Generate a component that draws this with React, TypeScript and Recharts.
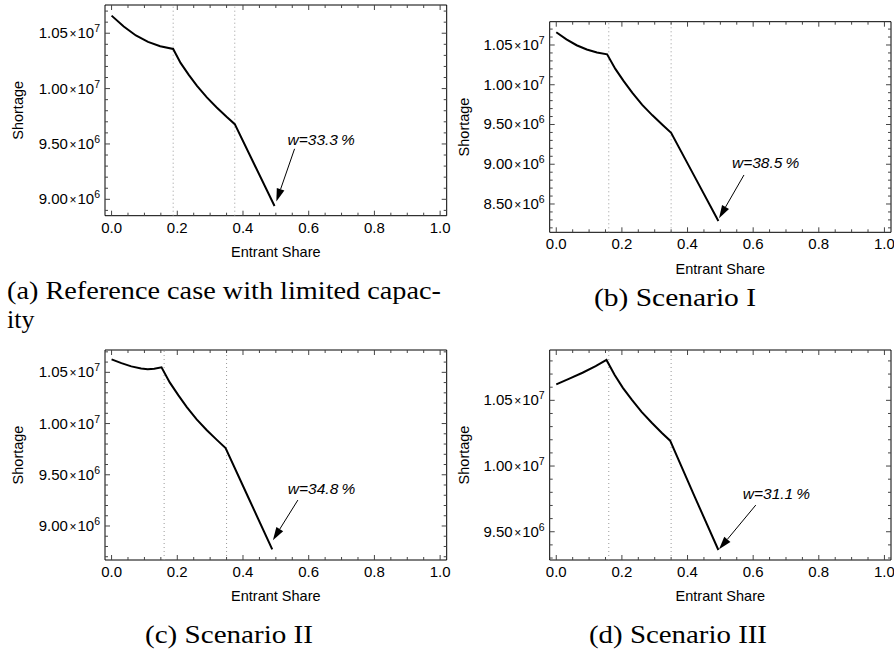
import React from "react";
import { LineChart, Line, XAxis, YAxis, ReferenceLine, ReferenceArea } from "recharts";

const SANS = "'Liberation Sans', Arial, sans-serif";
const SERIF = "'Liberation Serif', serif";
const TICK = "#444";

// (a) reference case with limited capacity
const shareA = [0, 0.037, 0.074, 0.111, 0.148, 0.1875, 0.21, 0.235, 0.26, 0.29, 0.32, 0.35, 0.375, 0.435, 0.496];
const shortageA = [10659000, 10560000, 10480000, 10422000, 10382000, 10358000, 10232000, 10124000, 10024000, 9921000, 9830000, 9745000, 9679000, 9312000, 8940000];

// (b) scenario I
const shareB = [0, 0.031, 0.062, 0.093, 0.124, 0.155, 0.18, 0.206, 0.232, 0.262, 0.293, 0.325, 0.35, 0.422, 0.494];
const shortageB = [10660000, 10570000, 10497000, 10443000, 10405000, 10383000, 10199000, 10042000, 9897000, 9747000, 9615000, 9491000, 9396000, 8841000, 8286000];

// (c) scenario II
const shareC = [0, 0.03, 0.06, 0.09, 0.11, 0.13, 0.152, 0.177, 0.203, 0.229, 0.259, 0.29, 0.322, 0.347, 0.418, 0.489];
const shortageC = [10627000, 10590000, 10558000, 10537000, 10529000, 10535000, 10549000, 10402000, 10277000, 10161000, 10041000, 9935000, 9836000, 9760000, 9266000, 8772000];

// (d) scenario III
const shareD = [0, 0.04, 0.08, 0.12, 0.153, 0.178, 0.203, 0.23, 0.26, 0.291, 0.322, 0.347, 0.42, 0.494];
const shortageD = [10622000, 10665000, 10710000, 10760000, 10807000, 10693000, 10595000, 10505000, 10412000, 10329000, 10252000, 10193000, 9777000, 9361000];

// dotted regime boundaries
const kinksA = [0.1875, 0.375];
const kinksBCD = [0.16, 0.35];

// tick labels
const xMajor = [0, 0.2, 0.4, 0.6, 0.8, 1.0];
const yMajorA = [9.0e6, 9.5e6, 1.0e7, 1.05e7];
const yMajorB = [8.5e6, 9.0e6, 9.5e6, 1.0e7, 1.05e7];
const yMajorC = [9.0e6, 9.5e6, 1.0e7, 1.05e7];
const yMajorD = [9.5e6, 1.0e7, 1.05e7];

// optimum labels
const optA = "w=33.3\u2009%";
const optB = "w=38.5\u2009%";
const optC = "w=34.8\u2009%";
const optD = "w=31.1\u2009%";

const W = 460;
const H = 300;

function allTicks(lo: number, hi: number, step: number) {
  const out: number[] = [];
  for (let i = Math.ceil(lo / step - 1e-9); i * step <= hi + 1e-9; i++) out.push(+(i * step).toFixed(6));
  return out;
}

function isMajor(v: number, major: number[], step: number) {
  return major.some((m) => Math.abs(m - v) < step / 10);
}

function sci(v: number) {
  const e = Math.floor(Math.log10(v) + 1e-9);
  return { m: (v / Math.pow(10, e)).toFixed(2), e };
}

type Arrow = { from: [number, number]; to: [number, number]; text: string; dx: number; dy: number };

type PanelProps = {
  left: number;
  top: number;
  plot: { l: number; t: number; r: number; b: number };
  share: number[];
  shortage: number[];
  yDomain: [number, number];
  yMajor: number[];
  kinks: number[];
  arrow: Arrow;
  yLabelOffset: number;
};

function Panel(p: PanelProps) {
  const plotW = W - p.plot.l - p.plot.r;
  const plotH = H - p.plot.t - p.plot.b;
  const data = p.share.map((s, i) => ({ share: s, shortage: p.shortage[i] }));
  const xTicks = allTicks(0, 1, 0.05);
  const yTicks = allTicks(p.yDomain[0], p.yDomain[1], 1e5);

  const xTick = (props: any) => {
    const { x, y, payload } = props;
    const major = isMajor(payload.value, xMajor, 0.05);
    const len = major ? 5 : 3;
    return (
      <g>
        <line x1={x} y1={y} x2={x} y2={y - len} stroke={TICK} />
        <line x1={x} y1={y - plotH} x2={x} y2={y - plotH + len} stroke={TICK} />
        {major && (
          <text x={x} y={y + 17} textAnchor="middle" fontSize={15} fontFamily={SANS} fill="#000">
            {payload.value.toFixed(1)}
          </text>
        )}
      </g>
    );
  };

  const yTick = (props: any) => {
    const { x, y, payload } = props;
    const major = isMajor(payload.value, p.yMajor, 1e5);
    const len = major ? 5 : 3;
    const s = sci(payload.value);
    return (
      <g>
        <line x1={x} y1={y} x2={x + len} y2={y} stroke={TICK} />
        <line x1={x + plotW} y1={y} x2={x + plotW - len} y2={y} stroke={TICK} />
        {major && (
          <text x={x - 5} y={y + 5} textAnchor="end" fontSize={15} fontFamily={SANS} fill="#000">
            {s.m}
            <tspan fontSize={12} dx={1.5}>×</tspan>
            <tspan dx={1}>10</tspan>
            <tspan fontSize={10.5} dy={-6}>{s.e}</tspan>
          </text>
        )}
      </g>
    );
  };

  const arrowShape = (props: any) => {
    const { x1, y1, x2, y2 } = props;
    const ang = Math.atan2(y2 - y1, x2 - x1);
    const len = 13;
    const hw = 4;
    const bx = x2 - len * Math.cos(ang);
    const by = y2 - len * Math.sin(ang);
    const nx = -Math.sin(ang) * hw;
    const ny = Math.cos(ang) * hw;
    return (
      <g>
        <line x1={x1} y1={y1} x2={bx} y2={by} stroke="#000" strokeWidth={1} />
        <polygon points={`${x2},${y2} ${bx + nx},${by + ny} ${bx - nx},${by - ny}`} fill="#000" />
        <text x={x1 + p.arrow.dx} y={y1 + p.arrow.dy} fontSize={15.5} fontStyle="italic" fontFamily={SANS} fill="#000">
          {p.arrow.text}
        </text>
      </g>
    );
  };

  return (
    <div style={{ position: "absolute", left: p.left, top: p.top, width: W, height: H }}>
      <LineChart
        width={W}
        height={H}
        data={data}
        margin={{ top: p.plot.t, right: p.plot.r, left: 0, bottom: p.plot.b - 30 }}
      >
        <ReferenceArea x1={-0.02} x2={1.02} y1={p.yDomain[0]} y2={p.yDomain[1]} fill="none" stroke="#000" strokeWidth={1} />
        <XAxis
          dataKey="share"
          type="number"
          domain={[-0.02, 1.02]}
          allowDataOverflow
          ticks={xTicks}
          interval={0}
          tickLine={false}
          axisLine={false}
          tickSize={0}
          tickMargin={0}
          height={30}
          tick={xTick}
          label={{ value: "Entrant Share", position: "insideTop", offset: 31, fontSize: 14.5, fontFamily: SANS, fill: "#000" }}
        />
        <YAxis
          type="number"
          domain={p.yDomain}
          allowDataOverflow
          ticks={yTicks}
          interval={0}
          tickLine={false}
          axisLine={false}
          tickSize={0}
          tickMargin={0}
          width={p.plot.l}
          tick={yTick}
          label={{
            value: "Shortage",
            angle: -90,
            position: "insideLeft",
            offset: p.yLabelOffset,
            fontSize: 14.5,
            fontFamily: SANS,
            fill: "#000",
            style: { textAnchor: "middle" },
          }}
        />
        {p.kinks.map((k) => (
          <ReferenceLine key={k} x={k} stroke="#999" strokeDasharray="1 3" strokeWidth={1} />
        ))}
        <Line type="linear" dataKey="shortage" stroke="#000" strokeWidth={2} dot={false} isAnimationActive={false} />
        <ReferenceLine
          segment={[
            { x: p.arrow.from[0], y: p.arrow.from[1] },
            { x: p.arrow.to[0], y: p.arrow.to[1] },
          ]}
          shape={arrowShape}
        />
      </LineChart>
    </div>
  );
}

export default function App() {
  return (
    <div style={{ position: "absolute", left: 0, top: 0, width: 894, height: 656, overflow: "hidden", background: "#fff" }}>
      <Panel
        left={0}
        top={0}
        plot={{ l: 105, t: 5, r: 13.3, b: 84.3 }}
        share={shareA}
        shortage={shortageA}
        yDomain={[8852000, 10755000]}
        yMajor={yMajorA}
        kinks={kinksA}
        arrow={{ from: [0.557, 9456000], to: [0.5015, 8980000], text: optA, dx: -7, dy: -4 }}
        yLabelOffset={18}
      />
      <Panel
        left={447}
        top={0}
        plot={{ l: 102.7, t: 21.7, r: 16, b: 67.7 }}
        share={shareB}
        shortage={shortageB}
        yDomain={[8144000, 10793000]}
        yMajor={yMajorB}
        kinks={kinksBCD}
        arrow={{ from: [0.572, 8865000], to: [0.496, 8320000], text: optB, dx: -12, dy: -7 }}
        yLabelOffset={17}
      />
      <Panel
        left={0}
        top={330}
        plot={{ l: 105, t: 20, r: 13.3, b: 70 }}
        share={shareC}
        shortage={shortageC}
        yDomain={[8668000, 10718000]}
        yMajor={yMajorC}
        kinks={kinksBCD}
        arrow={{ from: [0.567, 9253000], to: [0.491, 8862000], text: optC, dx: -10, dy: -6 }}
        yLabelOffset={18}
      />
      <Panel
        left={447}
        top={330}
        plot={{ l: 102.7, t: 20, r: 16, b: 70 }}
        share={shareD}
        shortage={shortageD}
        yDomain={[9285000, 10883000]}
        yMajor={yMajorD}
        kinks={kinksBCD}
        arrow={{ from: [0.608, 9703000], to: [0.496, 9366000], text: optD, dx: -13, dy: -6 }}
        yLabelOffset={17}
      />
      <svg width={894} height={656} style={{ position: "absolute", left: 0, top: 0, pointerEvents: "none" }}>
        <g fontFamily={SERIF} fontSize={26} fill="#000">
          <text x={7} y={299} textLength={434} lengthAdjust="spacingAndGlyphs">(a) Reference case with limited capac-</text>
          <text x={7} y={328}>ity</text>
          <text x={675} y={306} textAnchor="middle" textLength={162} lengthAdjust="spacingAndGlyphs">(b) Scenario I</text>
          <text x={229} y={643} textAnchor="middle" textLength={168} lengthAdjust="spacingAndGlyphs">(c) Scenario II</text>
          <text x={678} y={643} textAnchor="middle" textLength={178} lengthAdjust="spacingAndGlyphs">(d) Scenario III</text>
        </g>
      </svg>
    </div>
  );
}
